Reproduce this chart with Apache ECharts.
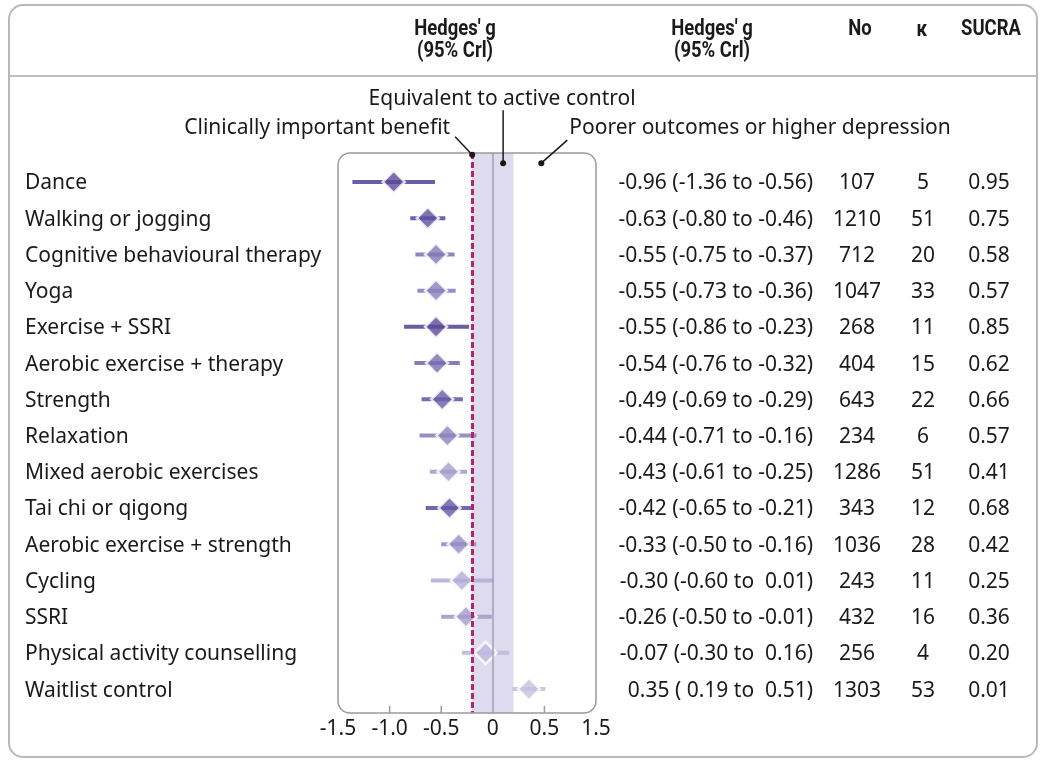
<!DOCTYPE html>
<html>
<head>
<meta charset="utf-8">
<script src="https://cdn.jsdelivr.net/npm/echarts@6/dist/echarts.min.js"></script>
<style>
  html, body { margin: 0; padding: 0; background: #fff; }
  #chart { width: 1046px; height: 760px; }
</style>
</head>
<body>
<div id="chart"></div>
<script>
// rows, top to bottom
var treatments = [
  'Dance', 'Walking or jogging', 'Cognitive behavioural therapy', 'Yoga',
  'Exercise + SSRI', 'Aerobic exercise + therapy', 'Strength', 'Relaxation',
  'Mixed aerobic exercises', 'Tai chi or qigong', 'Aerobic exercise + strength',
  'Cycling', 'SSRI', 'Physical activity counselling', 'Waitlist control'
];
var estimate = [-0.96, -0.63, -0.55, -0.55, -0.55, -0.54, -0.49, -0.44, -0.43, -0.42, -0.33, -0.30, -0.26, -0.07, 0.35];
var lower    = [-1.36, -0.80, -0.75, -0.73, -0.86, -0.76, -0.69, -0.71, -0.61, -0.65, -0.50, -0.60, -0.50, -0.30, 0.19];
var upper    = [-0.56, -0.46, -0.37, -0.36, -0.23, -0.32, -0.29, -0.16, -0.25, -0.21, -0.16, 0.01, -0.01, 0.16, 0.51];
var participants = [107, 1210, 712, 1047, 268, 404, 643, 234, 1286, 343, 1036, 243, 432, 256, 1303];
var kappa = [5, 51, 20, 33, 11, 15, 22, 6, 51, 12, 28, 11, 16, 4, 53];
var sucra = [0.95, 0.75, 0.58, 0.57, 0.85, 0.62, 0.66, 0.57, 0.41, 0.68, 0.42, 0.25, 0.36, 0.20, 0.01];

// x axis ticks (labels as printed in the figure)
var tickValues = [-1.5, -1.0, -0.5, 0, 0.5, 1.0];
var tickLabels = ['-1.5', '-1.0', '-0.5', '0', '0.5', '1.5'];
var tickMarks = [-1.0, -0.5, 0.5];

// reference lines
var clinicalBenefit = -0.2;
var equivalenceBand = [-0.2, 0.2];

// marker shade per row (style only)
var rowShade = [
  '#5a4a9b', '#5f50a0', '#8478b6', '#8a80bb', '#5a4a9b', '#7a6db0', '#6a5ca8', '#8c83bd',
  '#a59fcc', '#6557a5', '#968dc4', '#b4aed6', '#a39cc9', '#c0b9dc', '#c6c0e0'
];

var FONT = '"Noto Sans", "Open Sans", sans-serif';
var HEAD_FONT = 'Roboto, "Noto Sans", sans-serif';
var TXT = '#1a1a1a';
var FS = 21;
var DY = 1.5; // baseline nudge for body text

function fmt(v) {
  return (v < 0 ? '' : ' ') + v.toFixed(2);
}

var rows = treatments.map(function (t, i) {
  return [estimate[i], i, lower[i], upper[i]];
});

var chart = echarts.init(document.getElementById('chart'));

function head(x, y, text) {
  return {
    type: 'text', x: x, y: y, scaleX: 0.84,
    style: { text: text, fill: TXT, font: 'bold 22px ' + HEAD_FONT, textAlign: 'center', textVerticalAlign: 'middle' }
  };
}

var option = {
  backgroundColor: '#fff',
  animation: false,
  grid: { left: 338, right: 450, top: 153, bottom: 47, show: false },
  xAxis: {
    type: 'value',
    position: 'bottom',
    min: -1.5,
    max: 1.0,
    interval: 0.5,
    splitLine: { show: false },
    axisLine: { show: false, onZero: false },
    axisTick: { show: false },
    axisLabel: {
      customValues: tickValues,
      color: TXT, fontSize: FS, fontFamily: FONT, margin: 6,
      formatter: function (v) {
        var k = tickValues.indexOf(v);
        return k >= 0 ? tickLabels[k] : '';
      }
    }
  },
  yAxis: {
    type: 'value',
    min: -0.8,
    max: 14.66,
    inverse: true,
    show: false
  },
  graphic: [
    {
      type: 'rect', z: 0,
      shape: { x: 9, y: 5, width: 1028, height: 752, r: 14 },
      style: { fill: 'none', stroke: '#b9b9b9', lineWidth: 2 }
    },
    {
      type: 'line',
      shape: { x1: 10, y1: 76, x2: 1036, y2: 76 },
      style: { stroke: '#aaa', lineWidth: 1.5 }
    },
    head(455, 29, "Hedges' g"),
    head(455, 51, '(95% Crl)'),
    head(712, 29, "Hedges' g"),
    head(712, 51, '(95% Crl)'),
    head(860, 29, 'No'),
    head(922, 30, 'κ'),
    head(991, 29, 'SUCRA')
  ],
  series: [
    // reference band and zero line
    {
      type: 'line',
      data: [],
      z: 1,
      markArea: {
        silent: true,
        itemStyle: { color: '#dedbef' },
        data: [[{ xAxis: equivalenceBand[0] }, { xAxis: equivalenceBand[1] }]]
      },
      markLine: {
        silent: true,
        symbol: 'none',
        label: { show: false },
        lineStyle: { color: '#a19db5', width: 1.5, type: 'solid' },
        data: [{ xAxis: 0 }]
      }
    },
    // credible intervals
    {
      type: 'custom',
      z: 3,
      data: rows,
      renderItem: function (params, api) {
        var i = params.dataIndex;
        var a = api.coord([api.value(2), api.value(1)]);
        var b = api.coord([api.value(3), api.value(1)]);
        return {
          type: 'line',
          shape: { x1: a[0], y1: a[1], x2: b[0], y2: b[1] },
          style: { stroke: rowShade[i], lineWidth: 4, opacity: 0.9 }
        };
      }
    },
    // point estimates
    {
      type: 'scatter',
      z: 4,
      symbol: 'diamond',
      symbolSize: [22, 22],
      data: rows.map(function (r, i) {
        return {
          value: [r[0], r[1]],
          itemStyle: { color: rowShade[i], borderColor: '#fff', borderWidth: 2.5 }
        };
      })
    },
    // clinically important benefit threshold
    {
      type: 'line',
      data: [],
      z: 5,
      markLine: {
        silent: true,
        symbol: 'none',
        label: { show: false },
        lineStyle: { color: '#b3236f', width: 3, type: [6, 3] },
        data: [{ xAxis: clinicalBenefit }]
      }
    },
    // plot frame + tick marks
    {
      type: 'custom',
      z: 6,
      data: [[0, 0]],
      renderItem: function (params, api) {
        var tl = api.coord([-1.5, -0.8]);
        var br = api.coord([1.0, 14.66]);
        var kids = [{
          type: 'rect',
          shape: { x: tl[0], y: tl[1], width: br[0] - tl[0], height: br[1] - tl[1], r: 12 },
          style: { fill: 'none', stroke: '#9b9b9b', lineWidth: 1.5 }
        }];
        tickMarks.forEach(function (v) {
          var p = api.coord([v, 14.66]);
          kids.push({
            type: 'line',
            shape: { x1: p[0], y1: p[1], x2: p[0], y2: p[1] - 7 },
            style: { stroke: '#9b9b9b', lineWidth: 1.5 }
          });
        });
        return { type: 'group', children: kids };
      }
    },
    // annotations
    {
      type: 'custom',
      z: 7,
      data: [[0, 0]],
      renderItem: function (params, api) {
        var eq = api.coord([0.1, -0.52]);
        var cl = api.coord([clinicalBenefit, -0.75]);
        var po = api.coord([0.47, -0.52]);
        var ts = { fill: TXT, font: FS + 'px ' + FONT, textVerticalAlign: 'middle' };
        function dot(p) {
          return { type: 'circle', shape: { cx: p[0], cy: p[1], r: 3 }, style: { fill: TXT } };
        }
        function lead(p, dx, dy) {
          return { type: 'line', shape: { x1: p[0], y1: p[1], x2: p[0] + dx, y2: p[1] + dy }, style: { stroke: TXT, lineWidth: 1.5 } };
        }
        return {
          type: 'group',
          children: [
            dot(eq), lead(eq, 0, -53),
            dot(cl), lead(cl, -17, -18),
            dot(po), lead(po, 26, -23),
            { type: 'text', x: eq[0] - 1, y: eq[1] - 64, style: Object.assign({ text: 'Equivalent to active control', textAlign: 'center' }, ts) },
            { type: 'text', x: cl[0] - 22, y: cl[1] - 27, style: Object.assign({ text: 'Clinically important benefit', textAlign: 'right' }, ts) },
            { type: 'text', x: po[0] + 28, y: po[1] - 35, style: Object.assign({ text: 'Poorer outcomes or higher depression', textAlign: 'left' }, ts) }
          ]
        };
      }
    },
    // table columns
    {
      type: 'custom',
      z: 7,
      data: rows,
      renderItem: function (params, api) {
        var i = params.dataIndex;
        var y = api.coord([0, api.value(1)])[1] + DY;
        var ts = { fill: TXT, font: FS + 'px ' + FONT, textVerticalAlign: 'middle' };
        function t(x, text, align) {
          return { type: 'text', x: x, y: y, style: Object.assign({ text: text, textAlign: align }, ts) };
        }
        return {
          type: 'group',
          children: [
            t(25, treatments[i], 'left'),
            t(813, fmt(estimate[i]) + ' (' + fmt(lower[i]) + ' to ' + fmt(upper[i]) + ')', 'right'),
            t(857, String(participants[i]), 'center'),
            t(923, String(kappa[i]), 'center'),
            t(989, sucra[i].toFixed(2), 'center')
          ]
        };
      }
    }
  ]
};

chart.setOption(option);
</script>
</body>
</html>
